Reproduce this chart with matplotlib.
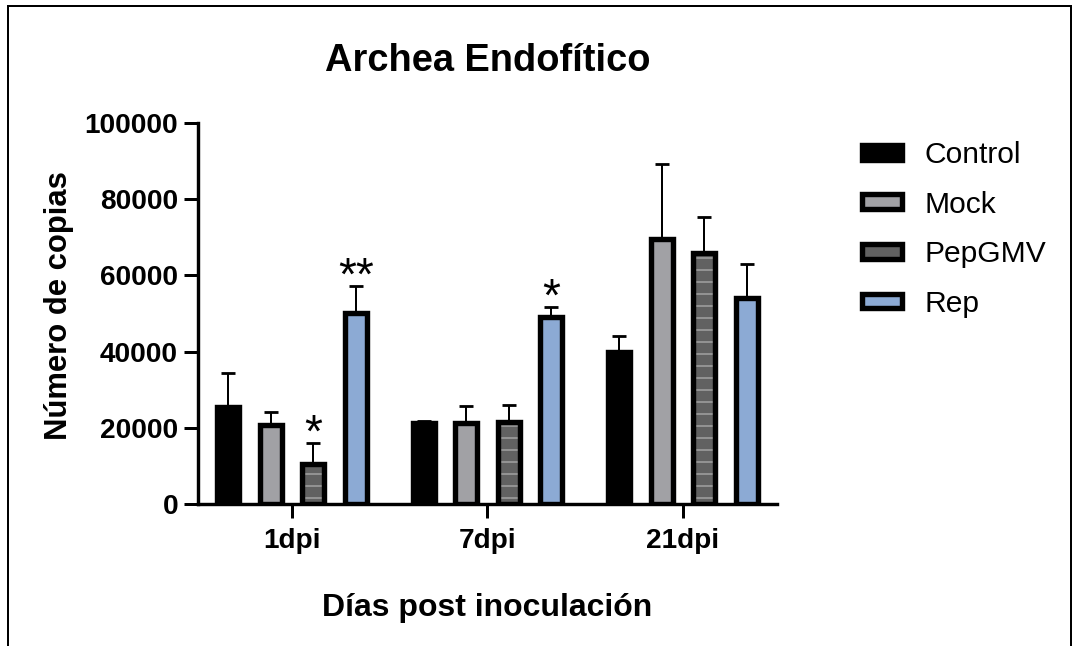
import matplotlib.pyplot as plt
import numpy as np
from matplotlib.patches import Rectangle
from matplotlib.legend_handler import HandlerTuple

plt.rcParams['font.family'] = ['Liberation Sans', 'DejaVu Sans']
plt.rcParams['hatch.linewidth'] = 0.7

groups = ["1dpi", "7dpi", "21dpi"]
names = ["Control", "Mock", "PepGMV", "Rep"]

control = [25500, 21300, 39900]
controlErr = [8900, 500, 4200]
mock = [20700, 21300, 69600]
mockErr = [3400, 4400, 19600]
pepgmv = [10500, 21500, 65900]
pepgmvErr = [5500, 4500, 9400]
rep = [50100, 49100, 54100]
repErr = [7100, 2600, 8900]

controlSig = ["", "", ""]
mockSig = ["", "", ""]
pepgmvSig = ["*", "", ""]
repSig = ["**", "*", ""]

means = [control, mock, pepgmv, rep]
errs = [controlErr, mockErr, pepgmvErr, repErr]
sigs = [controlSig, mockSig, pepgmvSig, repSig]
colors = ["#000000", "#a1a1a5", "#616161", "#8caad4"]

fig = plt.figure(figsize=(1076 / 144, 646 / 144), dpi=144)
ax = fig.add_axes([198 / 1076, 1 - 504 / 646, (777 - 198) / 1076, (504 - 123) / 646])

groupPos = np.arange(len(groups)) * 4.6
width = 0.51
lw = 2.7
handles = []

for i in range(4):
    x = groupPos + (i - 1.5)
    m = np.array(means[i])
    e = np.array(errs[i])
    ax.errorbar(x, m, yerr=[np.zeros_like(e), e], fmt="none", ecolor="black",
                elinewidth=1.0, capsize=3.5, capthick=1.4, zorder=1)
    if names[i] == "PepGMV":
        back = ax.bar(x, m, width, color=colors[i], edgecolor="#a8a8a8",
                      linewidth=0, hatch="--", zorder=2)
        front = ax.bar(x, m, width, fill=False, edgecolor="black",
                       linewidth=lw, zorder=3)
        handles.append((back[0], front[0]))
    else:
        b = ax.bar(x, m, width, color=colors[i], edgecolor="black",
                   linewidth=lw, zorder=3)
        handles.append(b[0])
    for xi, top, s in zip(x, m + e, sigs[i]):
        if s:
            ax.annotate(s, (xi, top), xytext=(0, -2), textcoords="offset points",
                        ha="center", va="baseline", fontsize=23, zorder=4)

ax.set_xlim(-2.21, groupPos[-1] + 2.21)
ax.set_ylim(0, 100000)
ax.set_yticks([0, 20000, 40000, 60000, 80000, 100000])
ax.set_xticks(groupPos)
ax.set_xticklabels(groups)

for side in ["top", "right"]:
    ax.spines[side].set_visible(False)
for side in ["left", "bottom"]:
    ax.spines[side].set_linewidth(1.7)

ax.tick_params(axis="both", length=7, width=1.5, labelsize=14, pad=3)
ax.tick_params(axis="x", pad=5)
for lab in ax.get_xticklabels() + ax.get_yticklabels():
    lab.set_fontweight("bold")

ax.set_title("Archea Endofítico", fontsize=19, fontweight="bold", pad=26)
ax.set_ylabel("Número de copias", fontsize=15.5, fontweight="bold")
ax.yaxis.set_label_coords(-0.214, 0.52)
ax.set_xlabel("Días post inoculación", fontsize=16, fontweight="bold")
ax.xaxis.set_label_coords(0.5, -0.233)

fig.legend(handles, names, loc="upper left", bbox_to_anchor=(862 / 1076, 1 - 141 / 646),
           frameon=False, fontsize=15, borderpad=0, borderaxespad=0,
           handlelength=1.33, handleheight=0.38, handletextpad=0.75,
           labelspacing=0.72,
           handler_map={tuple: HandlerTuple(ndivide=1, pad=0)})

fig.add_artist(Rectangle((8 / 1076, -0.1), (1071 - 8) / 1076, 1.1 - 6 / 646,
                         transform=fig.transFigure, fill=False,
                         edgecolor="black", linewidth=1.0))

fig.savefig("out.png", dpi=144)
